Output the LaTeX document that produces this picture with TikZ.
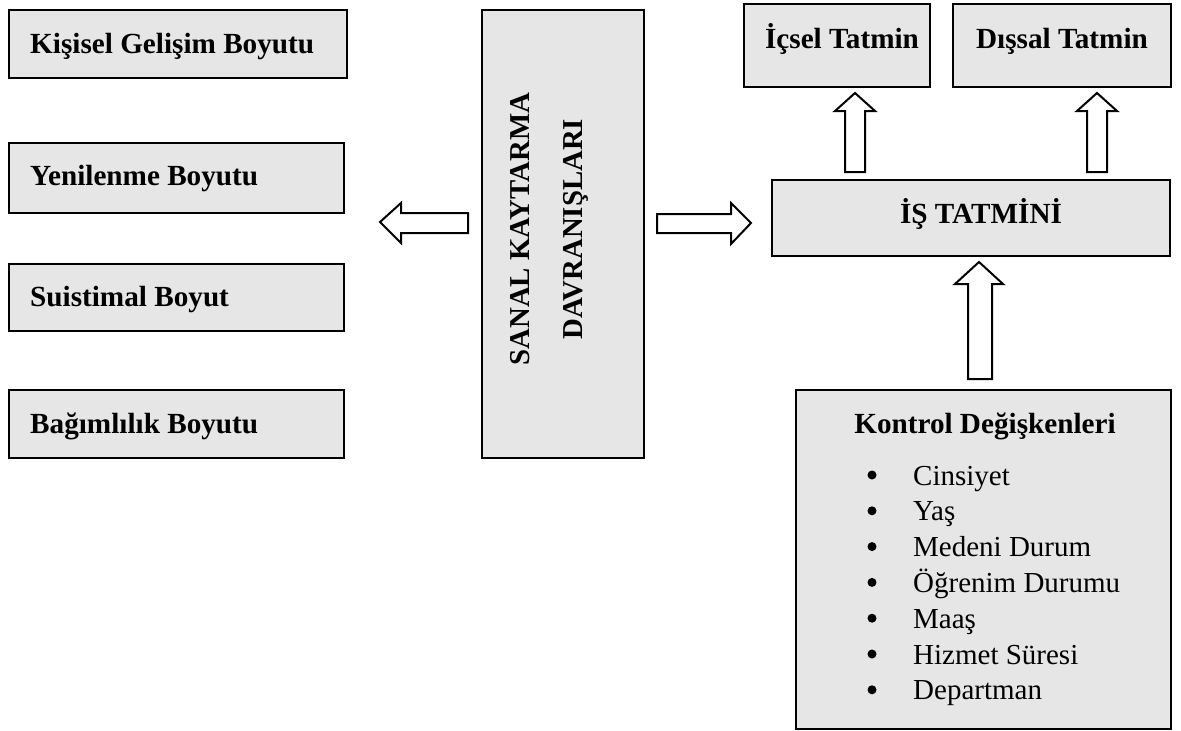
\documentclass[tikz,border=0pt]{standalone}
\usepackage{fontspec}
\setmainfont{Liberation Serif}
\usetikzlibrary{calc}
\definecolor{boxgrey}{HTML}{E6E6E6}
\tikzset{
  box/.style={draw=black, line width=2pt, fill=boxgrey, rectangle, inner sep=0pt, anchor=north west},
  title/.style={font=\fontsize{29.2}{35}\selectfont\bfseries, inner sep=0pt},
  item/.style={font=\fontsize{29}{35}\selectfont, inner sep=0pt, anchor=base west},
  blockarrow/.style={draw=black, line width=2pt, fill=white, line join=miter},
}
\begin{document}
\begin{tikzpicture}[x=1pt,y=-1pt]
\useasboundingbox (0,0) rectangle (1181,731);

% dimension boxes on the left
\node[box, minimum width=338pt, minimum height=68pt] (kg) at (8,9) {};
\node[title, anchor=base west] (kgt) at (30,53) {Kişisel Gelişim Boyutu};
\node[box, minimum width=335pt, minimum height=70pt] (yb) at (8,142) {};
\node[title, anchor=base west] (ybt) at (30,185) {Yenilenme Boyutu};
\node[box, minimum width=335pt, minimum height=67pt] (sb) at (8,263) {};
\node[title, anchor=base west] (sbt) at (30,306) {Suistimal Boyut};
\node[box, minimum width=335pt, minimum height=68pt] (bb) at (8,389) {};
\node[title, anchor=base west] (bbt) at (30,433) {Bağımlılık Boyutu};

% central construct
\node[box, minimum width=162pt, minimum height=448pt] (sk) at (481,9) {};
\node[title, rotate=90, align=center, font=\fontsize{28.8}{53}\selectfont\bfseries] (skt) at (549,229) {SANAL KAYTARMA\\DAVRANIŞLARI};

% job satisfaction side
\node[box, minimum width=186pt, minimum height=83pt] (ic) at (743,3) {};
\node[title, anchor=base] (ict) at (842,48) {İçsel Tatmin};
\node[box, minimum width=218pt, minimum height=83pt] (ds) at (952,3) {};
\node[title, anchor=base] (dst) at (1062,48) {Dışsal Tatmin};
\node[box, minimum width=398pt, minimum height=76pt] (is) at (771,179) {};
\node[title, anchor=base] (ist) at (981,223) {İŞ TATMİNİ};

% control variables
\node[box, minimum width=375pt, minimum height=339pt] (kd) at (795,389) {};
\node[title, anchor=base] (kdt) at (985,433) {Kontrol Değişkenleri};
\foreach \t [count=\i from 0] in {Cinsiyet, Yaş, Medeni Durum, Öğrenim Durumu, Maaş, Hizmet Süresi, Departman}{
  \pgfmathsetmacro{\yb}{485+35.8*\i}
  \fill (872,\yb-10) circle (4.5pt);
  \node[item] (it\i) at (913,\yb) {\t};
}

% block arrows
\draw[blockarrow] (468,213) -- (401,213) -- (401,203) -- (380,222) -- (401,243) -- (401,233) -- (468,233) -- cycle;
\draw[blockarrow] (657,214) -- (731,214) -- (731,203) -- (751,223) -- (731,244) -- (731,233) -- (657,233) -- cycle;
\draw[blockarrow] (845,172) -- (845,111) -- (835,111) -- (855,93) -- (875,111) -- (865,111) -- (865,172) -- cycle;
\draw[blockarrow] (1087,172) -- (1087,111) -- (1077,111) -- (1097,93) -- (1117,111) -- (1107,111) -- (1107,172) -- cycle;
\draw[blockarrow] (968,379) -- (968,284) -- (955,284) -- (979,262) -- (1003,284) -- (992,284) -- (992,379) -- cycle;
\end{tikzpicture}
\end{document}
